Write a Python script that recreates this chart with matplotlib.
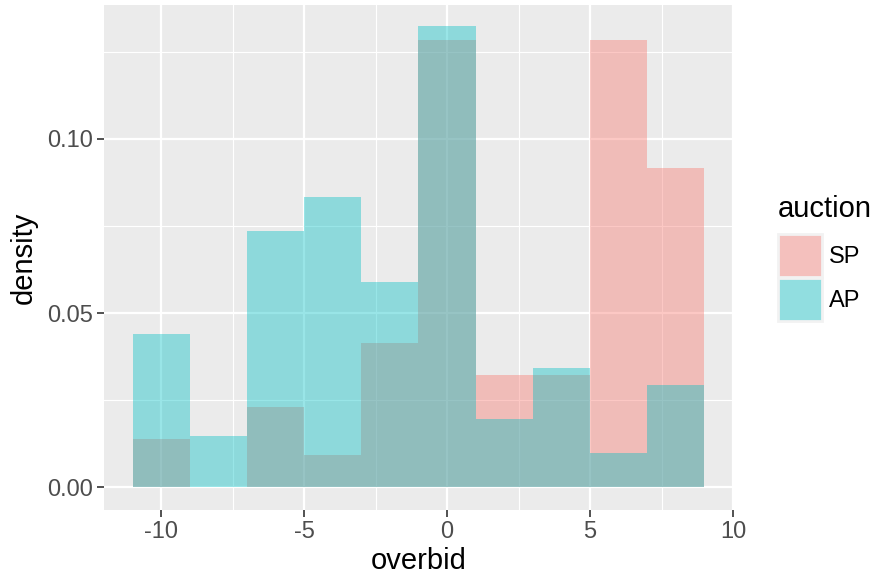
import matplotlib
matplotlib.use("Agg")
import matplotlib.pyplot as plt
from matplotlib.patches import Patch
import numpy as np

plt.rcParams['font.family'] = ['Liberation Sans', 'DejaVu Sans']

# histogram bins (left edges, binwidth 2)
bin_left = [-11, -9, -7, -5, -3, -1, 1, 3, 5, 7]
bin_width = 2

# densities
sp_density = [0.0138, 0.0, 0.0229, 0.0092, 0.0413, 0.1284, 0.0321, 0.0321, 0.1284, 0.0917]
ap_density = [0.0441, 0.0147, 0.0735, 0.0833, 0.0588, 0.1324, 0.0196, 0.0343, 0.0098, 0.0294]

groups = ['SP', 'AP']
colors = {'SP': '#F8766D', 'AP': '#00BFC4'}
alpha = 0.4

W, H = 878, 582
fig = plt.figure(figsize=(W / 100, H / 100), dpi=100)
ax = fig.add_axes([104 / W, 1 - 510 / H, (733 - 104) / W, (510 - 5) / H])

ax.set_facecolor('#EBEBEB')
for s in ax.spines.values():
    s.set_visible(False)

ax.bar(bin_left, sp_density, width=bin_width, align='edge',
       color=colors['SP'], alpha=alpha, linewidth=0, zorder=3)
ax.bar(bin_left, ap_density, width=bin_width, align='edge',
       color=colors['AP'], alpha=alpha, linewidth=0, zorder=4)

ax.set_xlim(-12, 10)
ax.set_ylim(-0.0066, 0.1385)

ax.set_xticks([-10, -5, 0, 5, 10])
ax.set_xticklabels(['-10', '-5', '0', '5', '10'])
ax.set_yticks([0.0, 0.05, 0.10])
ax.set_yticklabels(['0.00', '0.05', '0.10'])
ax.set_xticks([-7.5, -2.5, 2.5, 7.5], minor=True)
ax.set_yticks([0.025, 0.075, 0.125], minor=True)

ax.grid(which='major', color='white', linewidth=1.6, zorder=1)
ax.grid(which='minor', color='white', linewidth=0.8, zorder=1)
ax.set_axisbelow(True)

ax.tick_params(which='major', length=5, width=1.2, color='#333333',
               labelsize=17, labelcolor='#4D4D4D', pad=3)
ax.tick_params(which='minor', length=0)

ax.set_xlabel('overbid', fontsize=21, color='black', labelpad=3)
ax.set_ylabel('density', fontsize=21, color='black', labelpad=7)

# legend keys: fill blended over the grey95 key background
def blend(hexc, a, bg=242):
    r, g, b = [int(hexc[i:i + 2], 16) for i in (1, 3, 5)]
    return tuple((a * c + (1 - a) * bg) / 255 for c in (r, g, b))

handles = [Patch(facecolor=blend(colors[g], alpha), edgecolor='#F2F2F2',
                 linewidth=2, label=g) for g in groups]
leg = fig.legend(handles=handles, title='auction', loc='upper left',
                 bbox_to_anchor=(778 / W, 1 - 195 / H), frameon=False,
                 fontsize=17, title_fontsize=21,
                 handlelength=1.85, handleheight=2.43,
                 labelspacing=0.05, handletextpad=0.3, borderaxespad=0,
                 borderpad=0)
leg._legend_box.align = 'left'
leg._legend_box.sep = 8

fig.savefig('out.png', dpi=100)
